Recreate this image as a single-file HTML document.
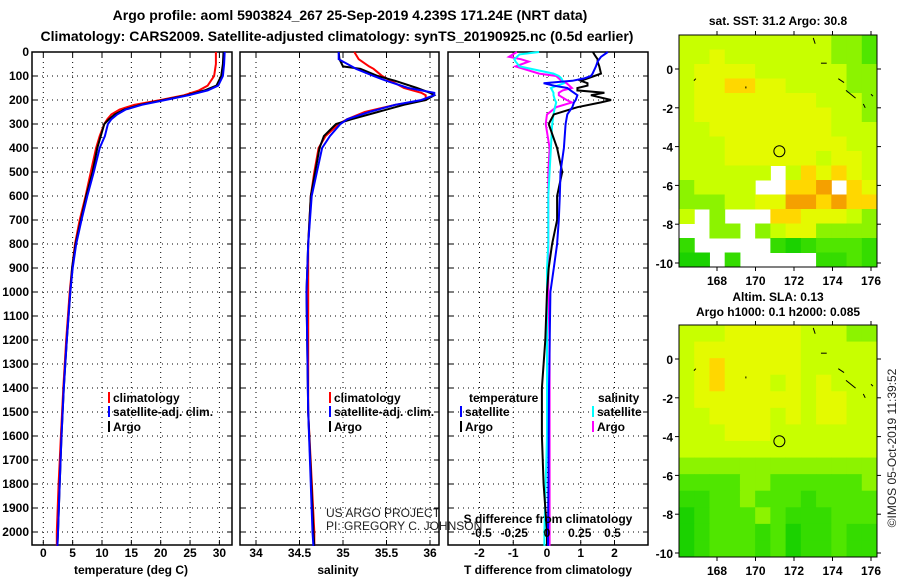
<!DOCTYPE html>
<html><head><meta charset="utf-8">
<style>
body{margin:0;background:#fff;}
svg{display:block;font-family:"Liberation Sans",sans-serif;}
.t{font-weight:bold;font-size:13px;}
.b{font-weight:bold;font-size:12px;}
.n{font-weight:normal;font-size:12px;fill:#222;}
</style></head>
<body>
<svg id="c" width="900" height="580" viewBox="0 0 900 580">
<text class="t" x="350" y="20" text-anchor="middle" style="font-size:14px">Argo profile: aoml 5903824_267 25-Sep-2019 4.239S 171.24E (NRT data)</text>
<text class="t" x="337" y="41" text-anchor="middle" style="font-size:14px">Climatology: CARS2009. Satellite-adjusted climatology: synTS_20190925.nc (0.5d earlier)</text>
<g id="g"></g>
</svg>
<script>
// ---- profile data ----
const tDepth=[0,50,100,140,160,180,200,220,240,260,280,300,350,400,500,600,700,800,900,1000,1200,1400,1600,1800,2000,2058];
const tArgo=[30.7,30.6,30.3,29.5,27.5,24.5,20.5,16.5,13.8,12.2,11.2,10.4,9.8,9.2,8.4,7.3,6.4,5.5,4.9,4.6,4.0,3.5,3.1,2.8,2.5,2.4];
const tClim=[29.4,29.4,29.1,28.0,26.5,24.0,20.0,15.5,13.0,11.6,10.9,10.4,9.6,9.0,8.1,7.2,6.2,5.4,4.9,4.5,3.9,3.4,3.0,2.6,2.3,2.3];
const tSat=[30.9,30.8,30.6,29.8,28.0,24.8,20.8,16.8,14.0,12.6,11.6,11.0,10.5,9.6,8.6,7.5,6.5,5.6,5.0,4.6,4.0,3.5,3.1,2.8,2.5,2.4];
const sDepth=[0,30,60,70,100,120,150,170,180,200,220,250,280,300,350,400,500,600,800,1000,1500,2000,2058];
const sArgo=[34.95,34.96,35.0,35.2,35.4,35.6,35.85,36.0,36.05,35.95,35.7,35.4,35.1,34.92,34.78,34.73,34.68,34.63,34.6,34.58,34.6,34.66,34.67];
const sClim=[35.13,35.18,35.3,35.35,35.45,35.55,35.7,35.9,35.95,35.95,35.6,35.25,35.05,34.95,34.8,34.72,34.67,34.63,34.6,34.6,34.6,34.67,34.67];
const sSat=[34.95,34.95,35.1,35.15,35.35,35.5,35.75,36.05,36.05,35.9,35.6,35.3,35.05,34.97,34.85,34.76,34.7,34.64,34.6,34.58,34.6,34.65,34.66];
const dDepth=[0,10,20,30,40,60,90,100,110,120,130,140,150,160,170,180,200,210,230,260,300,400,500,600,700,800,900,1000,1200,1400,1600,1800,2000,2058];
const dTArgo=[1.36,1.4,1.45,1.5,1.5,1.55,1.6,1.4,1.2,1.0,1.2,1.2,0.9,0.9,1.7,1.3,1.9,1.6,0.9,0.2,0.05,0.3,0.45,0.3,0.3,0.15,0.05,0,-0.05,-0.15,-0.15,-0.1,0,0];
const dTSat=[1.8,1.7,1.6,1.55,1.5,1.45,1.35,1.3,1.1,0.75,-0.1,0.2,0.6,0.7,0.8,0.9,0.85,0.8,0.75,0.6,0.55,0.5,0.4,0.38,0.35,0.3,0.2,0.1,0.08,0.06,0.05,0.04,0.03,0.03];
const dSArgo=[-0.23,-0.26,-0.29,-0.2,-0.14,-0.24,-0.06,0.07,0.09,0.11,0.15,0.17,0.19,0.12,0.09,0.09,0.15,0.19,0.07,0,-0.01,0.02,0.01,0.01,0.01,0.01,0.01,0.01,0.02,0.02,0.02,0.02,0.02,0.02];
const dSSat=[-0.06,-0.21,-0.23,-0.25,-0.24,-0.21,0.05,0.09,0.11,0.12,0.13,0.08,0.03,0.04,0.05,0.05,0.06,0.07,0.06,0.05,0.04,0.03,0.02,0.01,0.01,0.01,0,0,0,0,0,-0.01,-0.02,-0.02];
// ---- map data (value 0-9, '.' = missing) ----
const sstGrid=[
"5555555555443","5565555555443","5666655555544","5667766555544",
"5666666665554","5666666666554","5566666666555","5556666666655",
"5556666665665","555555.576765","45555..778.76","4445566887877",
"5.4...7766654","..44.45664444","2.....2123332","11.2.....2232"];
const slaGrid=[
"5556666655544","5666666655555","5676666655555","5676665656555",
"5666666656655","5566665656655","5556665555555","5555555555555",
"4444444444444","3333443333334","2233433323333","1233343222333",
"1233323122322","1233323122322"];
const yDepth=d=>52+d*0.24;
const NS='http://www.w3.org/2000/svg';
const G=document.getElementById('g');
function el(tag,attrs,parent){const e=document.createElementNS(NS,tag);for(const k in attrs)e.setAttribute(k,attrs[k]);(parent||G).appendChild(e);return e;}
function txt(x,y,s,cls,anchor,name){const e=el('text',{x:x,y:y,class:cls||'b','text-anchor':anchor||'middle'});e.textContent=s;

return e;}
function line(vals,depths,xf,color,name){const pts=vals.map((v,i)=>xf(v).toFixed(1)+','+yDepth(depths[i]).toFixed(1)).join(' ');
const p=el('polyline',{points:pts,fill:'none',stroke:color,'stroke-width':2});

}
function panel(x0,x1,name,xticks,xf,tickLabels){
 const g=el('g',{});
 
 
 for(let d=100;d<=2000;d+=100){el('line',{x1:x0,x2:x1,y1:yDepth(d),y2:yDepth(d),stroke:'#000','stroke-dasharray':'1,4'},g);
  el('line',{x1:x0,x2:x0+5,y1:yDepth(d),y2:yDepth(d),stroke:'#000'},g);el('line',{x1:x1-5,x2:x1,y1:yDepth(d),y2:yDepth(d),stroke:'#000'},g);}
 xticks.forEach((v,i)=>{const x=xf(v);el('line',{x1:x,x2:x,y1:52,y2:545,stroke:'#000','stroke-dasharray':'1,4'},g);
  el('line',{x1:x,x2:x,y1:540,y2:545,stroke:'#000'},g);el('line',{x1:x,x2:x,y1:52,y2:57,stroke:'#000'},g);
  txt(x,557,tickLabels[i],'b','middle','x-tick-label');});
 el('rect',{x:x0,y:52,width:x1-x0,height:493,fill:'none',stroke:'#000','stroke-width':1.5},g);
}
// panels
const xT=v=>43.3+v*5.87, xS=v=>256+(v-34)*87, xD=v=>547+v*33.75, xSd=v=>547+v*131;
const tTicks=[0,5,10,15,20,25,30], sTicks=[34,34.5,35,35.5,36], dTicks=[-2,-1,0,1,2], sdTicks=[-0.5,-0.25,0,0.25,0.5];
panel(32,232,'temperature-panel',tTicks,xT,tTicks.map(String));
panel(240,439,'salinity-panel',sTicks,xS,sTicks.map(String));
panel(448,648,'difference-panel',dTicks,xD,dTicks.map(String));
for(let d=0;d<=2000;d+=100)txt(29,yDepth(d)+4,String(d),'b','end','depth-tick-label');
line(tClim,tDepth,xT,'#f00','temp-climatology-line');
line(tArgo,tDepth,xT,'#000','temp-argo-line');
line(tSat,tDepth,xT,'#00f','temp-satellite-line');
line(sClim,sDepth,xS,'#f00','sal-climatology-line');
line(sArgo,sDepth,xS,'#000','sal-argo-line');
line(sSat,sDepth,xS,'#00f','sal-satellite-line');
line(dSArgo,dDepth,xSd,'#f0f','sdiff-argo-line');
line(dSSat,dDepth,xSd,'#0ff','sdiff-satellite-line');
line(dTArgo,dDepth,xD,'#000','tdiff-argo-line');
line(dTSat,dDepth,xD,'#00f','tdiff-satellite-line');
sdTicks.forEach(v=>txt(xSd(v),537,String(v),'b','middle','s-diff-tick-label'));
txt(548,523,'S difference from climatology','b','middle','s-diff-axis-title');
txt(131,574,'temperature (deg C)','b','middle','x-axis-title-temperature');
txt(338,574,'salinity','b','middle','x-axis-title-salinity');
txt(548,574,'T difference from climatology','b','middle','x-axis-title-tdiff');
function leg(x,y,color,label,name){el('rect',{x:x,y:y-10,width:2,height:11,fill:color});txt(x+5,y,label,'b','start',name);}
leg(108,402,'#f00','climatology','legend-temp-climatology');leg(108,416,'#00f','satellite-adj. clim.','legend-temp-satellite');leg(108,431,'#000','Argo','legend-temp-argo');
leg(329,402,'#f00','climatology','legend-sal-climatology');leg(329,416,'#00f','satellite-adj. clim.','legend-sal-satellite');leg(329,431,'#000','Argo','legend-sal-argo');
txt(469,402,'temperature','b','start','legend-temp-heading');txt(598,402,'salinity','b','start','legend-sal-heading');
leg(460,416,'#00f','satellite','legend-tdiff-satellite');leg(460,431,'#000','Argo','legend-tdiff-argo');
leg(592,416,'#0ff','satellite','legend-sdiff-satellite');leg(592,431,'#f0f','Argo','legend-sdiff-argo');
txt(326,517,'US ARGO PROJECT','n','start','credit-project');
txt(326,530,'PI: GREGORY C. JOHNSON','n','start','credit-pi');
// maps
function col(v){const stops=[[0,[0,200,0]],[3,[80,230,0]],[5,[200,255,0]],[6,[228,250,0]],[7,[255,215,0]],[8,[245,160,0]],[9,[230,110,0]]];
 for(let i=1;i<stops.length;i++){if(v<=stops[i][0]){const a=stops[i-1],b=stops[i],f=(v-a[0])/(b[0]-a[0]);return 'rgb('+a[1].map((c,k)=>Math.round(c+(b[1][k]-c)*f)).join(',')+')';}}return 'rgb(230,110,0)';}
function map(top,grid,name){
 const x0=679,x1=877,y0=top,y1=top+232;
 const lonX=l=>717+(l-168)*19.25, latY=l=>top+34-l*19.4;
 const g=el('g',{});
 
 
 const rows=grid.length,cols=grid[0].length,cw=(x1-x0)/cols,ch=(y1-y0)/rows;
 grid.forEach((r,i)=>{for(let j=0;j<cols;j++){const c=r[j];if(c===undefined||c==='.'||c===' ')continue;
  el('rect',{x:x0+j*cw,y:y0+i*ch,width:cw+0.5,height:ch+0.5,fill:col(+c)},g);}});
 el('circle',{cx:lonX(171.24),cy:latY(-4.24),r:5.5,fill:'none',stroke:'#000'},g);
 [[173,1.6,173.1,1.3],[174.3,-0.5,174.6,-0.7],[174.7,-1.1,175.2,-1.5],[175.6,-1.8,175.7,-2.0],[176,-1.3,176.1,-1.4],[173.4,0.3,173.7,0.3],[169.5,-0.9,169.5,-1.0],[166.9,-0.5,166.8,-0.6]].forEach(s=>el('line',{x1:lonX(s[0]),y1:latY(s[1]),x2:lonX(s[2]),y2:latY(s[3]),stroke:'#000','stroke-width':1},g));
 el('rect',{x:x0,y:y0,width:x1-x0,height:y1-y0,fill:'none',stroke:'#000'},g);
 [168,170,172,174,176].forEach(l=>{el('line',{x1:lonX(l),x2:lonX(l),y1:y1,y2:y1+4,stroke:'#000'},g);el('line',{x1:lonX(l),x2:lonX(l),y1:y0-4,y2:y0,stroke:'#000'},g);txt(lonX(l),y1+18,String(l),'b','middle','map-lon-label');});
 [0,-2,-4,-6,-8,-10].forEach(l=>{el('line',{x1:x0-4,x2:x0,y1:latY(l),y2:latY(l),stroke:'#000'},g);el('line',{x1:x1,x2:x1+4,y1:latY(l),y2:latY(l),stroke:'#000'},g);txt(673,latY(l)+5,String(l),'b','end','map-lat-label');});
}
map(35,sstGrid,'sst-map');
map(325,slaGrid,'sla-map');
txt(778,25,'sat. SST: 31.2 Argo: 30.8','b','middle','sst-map-title');
txt(778,301,'Altim. SLA: 0.13','b','middle','sla-map-title');
txt(778,316,'Argo h1000: 0.1 h2000: 0.085','b','middle','sla-map-subtitle');
const ts=txt(0,0,'©IMOS 05-Oct-2019 11:39:52','n','middle','timestamp');
ts.setAttribute('transform','translate(896,448) rotate(-90)');
</script>
</body></html>
